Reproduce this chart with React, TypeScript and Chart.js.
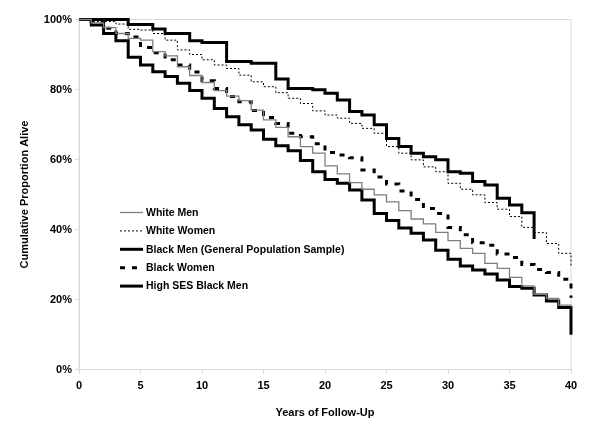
import React, { useEffect, useRef } from "react";
import { Chart, registerables } from "chart.js";

Chart.register(...registerables);

const YEARS = [0, 1, 2, 3, 4, 5, 6, 7, 8, 9, 10, 11, 12, 13, 14, 15, 16, 17, 18, 19, 20, 21, 22, 23, 24, 25, 26, 27, 28, 29, 30, 31, 32, 33, 34, 35, 36, 37, 38, 39, 40];

const WHITE_MEN = [100, 99, 97.7, 96, 94.6, 94.1, 90.8, 89.6, 86.5, 84, 82, 79.7, 78.1, 76.8, 74.1, 71.3, 69.2, 66.5, 63.7, 61.8, 58.2, 55.9, 53.4, 51.5, 49.9, 47.9, 45.4, 43, 41.6, 39.2, 36.8, 34.6, 33.2, 30.3, 28.9, 26.3, 23.9, 21.5, 20.3, 18.4, 17.9];
const WHITE_WOMEN = [100, 99.4, 99.4, 98.7, 97.2, 97, 96, 94.1, 91.3, 90, 88.5, 87, 86, 84.1, 82.2, 80.8, 79.1, 77.5, 76, 73.9, 72.7, 71.8, 70.3, 68.9, 67.5, 63.7, 61.8, 59.9, 57.9, 56.5, 53.2, 51.5, 49.9, 47.7, 45.8, 43.7, 40.6, 39.1, 36, 33.2, 29.5];
const BLACK_MEN = [100, 98.4, 96, 93.9, 89.2, 87, 85.1, 83.7, 81.8, 79.7, 77.5, 74.6, 72.2, 69.9, 68.4, 65.8, 63.9, 62.5, 59.7, 56.5, 54.3, 53.2, 51.3, 48.4, 44.6, 42.6, 40.4, 38.9, 37, 34.1, 31.5, 29.6, 28.4, 27.3, 25.6, 23.7, 23.2, 21.3, 19.6, 17.7, 9.9];
const BLACK_WOMEN = [100, 99.3, 97.5, 96, 95, 92, 90.5, 88.5, 87, 85, 82.5, 80.3, 78, 76.5, 74, 72, 70.3, 67.5, 66.5, 64.5, 62, 61.3, 60.5, 57, 55, 53, 51, 48.6, 46, 44.6, 40.6, 38.5, 36.2, 35.5, 33, 32, 30, 28.6, 27.7, 25.8, 20.5];
const HIGH_SES_BLACK_MEN = [100, 100, 100, 100, 98.6, 98.6, 97.3, 96, 96, 93.9, 93.4, 93.4, 88, 88, 87.5, 87.5, 83, 80.3, 80.3, 79.9, 78.9, 77, 73.7, 72.7, 69.9, 66, 63.7, 61.8, 60.8, 59.9, 56.5, 56.1, 53.7, 52.7, 48.9, 47, 44.8, 37.3];

const SERIES_LABELS = [
  "White Men",
  "White Women",
  "Black Men (General Population Sample)",
  "Black Women",
  "High SES Black Men",
];

const X_TICKS = [0, 5, 10, 15, 20, 25, 30, 35, 40];
const Y_TICKS = [0, 20, 40, 60, 80, 100];

const FONT_FAMILY = "'Liberation Sans', Arial, Helvetica, sans-serif";
const AXIS_GRAY = "#d9d9d9";

const toPoints = (vals: number[]) => vals.map((v, i) => ({ x: YEARS[i], y: v }));

const framePlugin = {
  id: "frame",
  beforeDatasetsDraw(chart: any) {
    const { ctx, chartArea } = chart;
    ctx.save();
    ctx.strokeStyle = AXIS_GRAY;
    ctx.lineWidth = 1;
    ctx.strokeRect(chartArea.left, chartArea.top, chartArea.right - chartArea.left, chartArea.bottom - chartArea.top);
    ctx.restore();
  },
};

const legendPlugin = {
  id: "customLegend",
  afterDraw(chart: any) {
    const { ctx } = chart;
    ctx.save();
    ctx.font = `bold 10.5px ${FONT_FAMILY}`;
    ctx.textBaseline = "middle";
    ctx.textAlign = "left";
    chart.data.datasets.forEach((ds: any, i: number) => {
      const y = 212.5 + i * 18.4;
      ctx.beginPath();
      ctx.strokeStyle = ds.borderColor;
      ctx.lineWidth = ds.borderWidth;
      ctx.setLineDash(ds.borderDash || []);
      ctx.moveTo(120, y);
      ctx.lineTo(143, y);
      ctx.stroke();
      ctx.setLineDash([]);
      ctx.fillStyle = "#000";
      ctx.fillText(ds.label, 146, y + 0.5);
    });
    ctx.restore();
  },
};

export default function App() {
  const canvasRef = useRef<HTMLCanvasElement | null>(null);

  useEffect(() => {
    if (!canvasRef.current) return;
    const font = { family: FONT_FAMILY, size: 11, weight: "bold" as const };
    const common = { stepped: "before" as const, pointRadius: 0, fill: false, borderJoinStyle: "miter" as const, clip: 4 };
    const chart = new Chart(canvasRef.current, {
      type: "line",
      data: {
        datasets: [
          { ...common, label: SERIES_LABELS[0], data: toPoints(WHITE_MEN), borderColor: "#7f7f7f", borderWidth: 1.3 },
          { ...common, label: SERIES_LABELS[1], data: toPoints(WHITE_WOMEN), borderColor: "#000000", borderWidth: 1, borderDash: [2, 2] },
          { ...common, label: SERIES_LABELS[2], data: toPoints(BLACK_MEN), borderColor: "#000000", borderWidth: 3 },
          { ...common, label: SERIES_LABELS[3], data: toPoints(BLACK_WOMEN), borderColor: "#000000", borderWidth: 3, borderDash: [5, 7] },
          { ...common, label: SERIES_LABELS[4], data: toPoints(HIGH_SES_BLACK_MEN), borderColor: "#000000", borderWidth: 3 },
        ],
      },
      options: {
        responsive: false,
        animation: false,
        devicePixelRatio: 1,
        layout: { padding: { left: 0, right: 29, top: 19.5, bottom: 0 } },
        plugins: { legend: { display: false }, tooltip: { enabled: false } },
        elements: { point: { radius: 0 }, line: { tension: 0 } },
        scales: {
          x: {
            type: "linear",
            min: 0,
            max: 40,
            afterBuildTicks: (s: any) => {
              s.ticks = X_TICKS.map((v) => ({ value: v }));
            },
            afterFit: (s: any) => {
              s.height = 61.5;
            },
            ticks: { font, color: "#000", padding: 6, maxRotation: 0, autoSkip: false },
            grid: { display: true, drawOnChartArea: false, drawTicks: true, tickLength: 4, color: AXIS_GRAY },
            border: { display: true, color: AXIS_GRAY },
            title: { display: true, text: "Years of Follow-Up", font, color: "#000", padding: { top: 0, bottom: 11.4 } },
          },
          y: {
            type: "linear",
            min: 0,
            max: 100,
            afterBuildTicks: (s: any) => {
              s.ticks = Y_TICKS.map((v) => ({ value: v }));
            },
            afterFit: (s: any) => {
              s.width = 79;
            },
            ticks: { font, color: "#000", padding: 3, callback: (v: any) => `${v}%` },
            grid: { display: true, drawOnChartArea: false, drawTicks: true, tickLength: 4, color: AXIS_GRAY },
            border: { display: true, color: AXIS_GRAY },
            title: { display: true, text: "Cumulative Proportion Alive", font, color: "#000", padding: { top: 18.4, bottom: 0 } },
          },
        },
      },
      plugins: [framePlugin, legendPlugin],
    });
    return () => chart.destroy();
  }, []);

  return (
    <div style={{ position: "fixed", left: 0, top: 0, width: 600, height: 431, background: "#fff" }}>
      <canvas ref={canvasRef} width={600} height={431} style={{ display: "block", width: 600, height: 431 }} />
    </div>
  );
}
